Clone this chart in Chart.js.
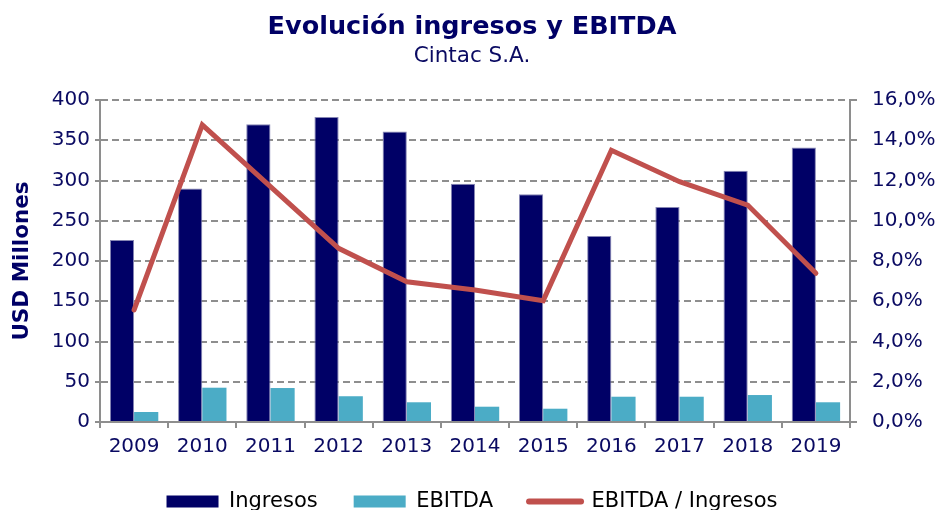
<!DOCTYPE html>
<html><head><meta charset="utf-8">
<script src="https://cdn.jsdelivr.net/npm/chart.js@4/dist/chart.umd.min.js"></script>
<style>html,body{margin:0;padding:0;overflow:hidden;background:#fff}#wrap{width:944px;height:522px;position:relative}</style>
</head><body><div id="wrap"><canvas id="c"></canvas></div>
<script>
const categories = ['2009','2010','2011','2012','2013','2014','2015','2016','2017','2018','2019'];
const ingresos = [226, 290, 370, 379, 361, 296, 283, 231, 267, 312, 341];
const ebitda = [12.4, 42.6, 42.2, 32, 24.5, 19, 16.5, 31.4, 31.4, 33.5, 24.5];
const margen = [5.57, 14.76, 11.7, 8.63, 6.97, 6.56, 6.03, 13.5, 11.94, 10.78, 7.39];
const seriesNames = ['Ingresos', 'EBITDA', 'EBITDA / Ingresos'];
const leftAxis = {min: 0, max: 400, step: 50};
const rightAxis = {min: 0, max: 16, step: 2};

const NAVY = '#000066';
const TEXT = '#0a0a62';
const TEAL = '#4BACC6';
const RED = '#C0504D';
const GRID = '#8e8e8e';
const FONT = "'DejaVu Sans', Verdana, sans-serif";

new Chart(document.getElementById('c'), {
  data: {
    labels: categories,
    datasets: [
      {type: 'line', label: seriesNames[2], data: margen, yAxisID: 'y2', order: 0,
       borderColor: RED, borderWidth: 5, pointRadius: 0, tension: 0,
       borderCapStyle: 'round', borderJoinStyle: 'miter', fill: false},
      {type: 'bar', label: seriesNames[0], data: ingresos, yAxisID: 'y', order: 1,
       backgroundColor: NAVY, borderColor: '#8686b4', borderWidth: 1,
       categoryPercentage: 0.71, barPercentage: 1.0},
      {type: 'bar', label: seriesNames[1], data: ebitda, yAxisID: 'y', order: 2,
       backgroundColor: TEAL, borderWidth: 0,
       categoryPercentage: 0.71, barPercentage: 1.0}
    ]
  },
  options: {
    responsive: true, maintainAspectRatio: false, animation: false, devicePixelRatio: 1,
    layout: {padding: 0},
    plugins: {
      tooltip: {enabled: false},
      title: {display: true, text: 'Evolución ingresos y EBITDA', color: NAVY,
        font: {family: FONT, size: 25.5, weight: 'bold', lineHeight: 1.2}, padding: {top: 12, bottom: 1}},
      subtitle: {display: true, text: 'Cintac S.A.', color: TEXT,
        font: {family: FONT, size: 21.5, lineHeight: 1.2}, padding: {top: 0, bottom: 30.6}},
      legend: {
        position: 'bottom',
        labels: {
          font: {family: FONT, size: 21}, color: TEXT, padding: 36,
          usePointStyle: true, pointStyleWidth: 52, boxWidth: 52, boxHeight: 12,
          generateLabels(chart) {
            const ds = chart.data.datasets;
            const order = [1, 2, 0];
            return order.map(i => {
              const d = ds[i];
              if (d.type === 'line') {
                return {text: d.label, pointStyle: 'line', strokeStyle: d.borderColor, fillStyle: d.borderColor,
                  lineWidth: 6, lineCap: 'round', datasetIndex: i, hidden: false};
              }
              return {text: d.label, pointStyle: 'rect', fillStyle: d.backgroundColor, strokeStyle: d.backgroundColor,
                lineWidth: 0, datasetIndex: i, hidden: false};
            });
          }
        }
      }
    },
    scales: {
      x: {
        offset: true,
        grid: {display: true, drawOnChartArea: false, drawTicks: true, tickLength: 6, color: GRID, lineWidth: 2, offset: true},
        border: {display: true, color: GRID, width: 2},
        ticks: {color: TEXT, font: {family: FONT, size: 20}, padding: 7, maxRotation: 0},
        afterFit(s) { s.height = 33; }
      },
      y: {
        position: 'left', min: leftAxis.min, max: leftAxis.max,
        ticks: {stepSize: leftAxis.step, color: TEXT, font: {family: FONT, size: 20}, padding: 5},
        grid: {color: GRID, lineWidth: 2, tickBorderDash: [], tickLength: 5, drawTicks: true},
        border: {display: true, color: GRID, width: 2, dash: [7, 4]},
        title: {display: true, text: 'USD Millones', color: NAVY, font: {family: FONT, size: 21.5, weight: 'bold'}, padding: {top: 10, bottom: 0}},
        afterFit(s) { s.width = 100; }
      },
      y2: {
        position: 'right', min: rightAxis.min, max: rightAxis.max,
        ticks: {stepSize: rightAxis.step, color: TEXT, font: {family: FONT, size: 20}, padding: 15,
          callback: v => v.toFixed(1).replace('.', ',') + '%'},
        grid: {drawOnChartArea: false, drawTicks: true, tickLength: 7, color: GRID, lineWidth: 2},
        border: {display: true, color: GRID, width: 2},
        afterFit(s) { s.width = 94; }
      }
    }
  }
});
</script></body></html>
